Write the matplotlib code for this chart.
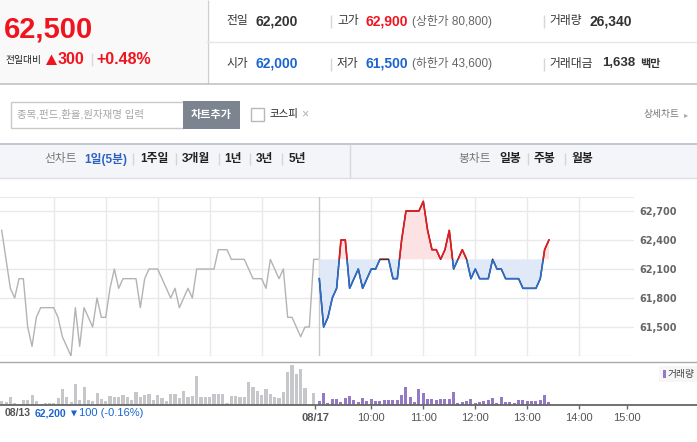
import numpy as np
import matplotlib.pyplot as plt
from matplotlib.patches import Rectangle, Polygon

W, H = 697, 442

prev_close = 62200

# 08/13, 5-minute prices (from 09:00)
prev_prices = [62500, 62200, 61900, 61800, 62000, 62000, 61500, 61300, 61600, 61700,
               61700, 61700, 61700, 61600, 61400, 61300, 61200, 61700, 61300, 61700,
               61600, 61500, 61800, 61600, 61600, 61900, 62100, 61900, 62000, 62000,
               62000, 62000, 61700, 62000, 62100, 62100, 62100, 62000, 61900, 61800,
               61900, 61700, 61800, 61900, 61800, 62100, 62100, 62100, 62100, 62100,
               62300, 62300, 62300, 62200, 62200, 62200, 62200, 62100, 62000, 62000,
               62000, 61900, 62200, 62100, 62000, 62100, 61600, 61600, 61500, 61400,
               61500, 61500, 62200, 62200]
prev_volume = [364, 280, 700, 140, 84, 420, 420, 840, 336, 112,
               168, 168, 140, 560, 1316, 700, 280, 1764, 420, 1484,
               392, 336, 1036, 504, 336, 784, 700, 644, 812, 644,
               392, 1064, 644, 812, 896, 448, 812, 616, 336, 896,
               896, 588, 1176, 644, 784, 2436, 644, 644, 644, 896,
               952, 896, 196, 784, 784, 644, 672, 1932, 1512, 1176,
               812, 1372, 896, 700, 560, 1064, 2800, 3360, 2576, 3024,
               1400, 0, 1008]

# 08/17, 5-minute prices (from 09:00)
today_prices = [62000, 61500, 61600, 61800, 61900, 62400, 62400, 61900, 62000, 62100,
                61900, 62000, 62100, 62100, 62200, 62200, 62200, 62000, 62000, 62400,
                62700, 62700, 62700, 62700, 62800, 62500, 62300, 62300, 62200, 62300,
                62500, 62100, 62200, 62300, 62200, 62000, 62100, 62000, 62000, 62000,
                62200, 62100, 62100, 62000, 62000, 62000, 62000, 61900, 61900, 61900,
                61900, 62000, 62300, 62400]
today_volume = [336, 1036, 140, 476, 476, 280, 560, 728, 420, 280,
                616, 336, 504, 336, 364, 392, 392, 392, 420, 868,
                1512, 672, 280, 1344, 1008, 504, 532, 448, 504, 532,
                532, 1120, 140, 280, 308, 476, 168, 280, 336, 392,
                588, 168, 672, 280, 224, 196, 448, 448, 364, 308,
                336, 420, 840, 224]

price_grid = [61200, 61500, 61800, 62100, 62400, 62700]
price_labels = ['', '61,500', '61,800', '62,100', '62,400', '62,700']
hour_slots = [12, 24, 36, 48, 60]
time_ticks = [-0.9, 12, 24, 36, 48, 60, 71.1]
time_labels = ['08/17', '10:00', '11:00', '12:00', '13:00', '14:00', '15:00']

KR = ['Liberation Sans', 'Noto Sans CJK KR']
RED = '#f0141e'
BLUE = '#1a64d1'

PX0 = 319.3      # pixel x of 08/17 09:00
STEP = 4.333     # pixels per 5 minutes
PREV_SHIFT = -73.3


def rect(x0, y0, x1, y1):
    return [x0 / W, 1 - y1 / H, (x1 - x0) / W, (y1 - y0) / H]


fig = plt.figure(figsize=(W / 100, H / 100), dpi=100)

# ---------- page frame (pixel coords) ----------
bg = fig.add_axes([0, 0, 1, 1], zorder=0)
bg.set_xlim(0, W)
bg.set_ylim(H, 0)
bg.axis('off')


def txt(x, y, s, size, color='#333333', weight='normal', ha='left', fam=KR):
    bg.text(x, y, s, fontsize=size, color=color, fontweight=weight, ha=ha,
            va='center', family=fam)


def vline(x, y0, y1, color='#d6d6d6', lw=1):
    bg.plot([x, x], [y0, y1], color=color, lw=lw, solid_capstyle='butt')


# header
bg.add_patch(Rectangle((0, 0), 207, 84, fc='#f9f9f9', ec='none'))
vline(207.5, 0, 84, '#cfcfcf')
bg.plot([207, W], [41.5, 41.5], color='#e6e6e6', lw=1)
bg.plot([0, W], [84, 84], color='#c3c3c3', lw=1.2)

txt(4, 30, '62,500', 21, RED, 'bold')
txt(6, 59.5, '전일대비', 7, '#222222')
bg.add_patch(Polygon([(46, 65), (57, 65), (51.5, 54.5)], closed=True, fc=RED, ec='none'))
txt(58, 59.5, '300', 11.5, RED, 'bold')
vline(91.5, 53, 66, '#d8d8d8')
txt(96, 59.5, '+0.48%', 11.5, RED, 'bold')

for row_y, items in [
    (21, [(226, '전일', '#333333', 'normal', 8.5), (256, '62,200', '#333333', 'bold', 10),
          (337, '고가', '#333333', 'normal', 8.5), (366, '62,900', RED, 'bold', 10),
          (412, '(상한가 80,800)', '#666666', 'normal', 8.5),
          (549, '거래량', '#333333', 'normal', 8.5), (590, '26,340', '#333333', 'bold', 10)]),
    (63.5, [(226, '시가', '#333333', 'normal', 8.5), (256, '62,000', BLUE, 'bold', 10),
            (337, '저가', '#333333', 'normal', 8.5), (366, '61,500', BLUE, 'bold', 10),
            (412, '(하한가 43,600)', '#666666', 'normal', 8.5),
            (549, '거래대금', '#333333', 'normal', 8.5), (602, '1,638', '#333333', 'bold', 9.5),
            (640, '백만', '#333333', 'bold', 8)]),
]:
    for x, s, c, w, fs in items:
        txt(x, row_y, s, fs, c, w)
    vline(330.5, row_y - 6, row_y + 7)
    vline(543.5, row_y - 6, row_y + 7)

# search row
bg.add_patch(Rectangle((10.5, 101.5), 173, 26, fc='white', ec='#c9c9c9', lw=1))
txt(17, 114.5, '종목,펀드,환율,원자재명 입력', 7.5, '#a5a5a5')
bg.add_patch(Rectangle((183, 101), 57, 27.5, fc='#7c8490', ec='none'))
txt(211.5, 114.5, '차트추가', 8, 'white', 'bold', ha='center')
bg.add_patch(Rectangle((250.5, 107.5), 13, 13, fc='white', ec='#b8b8b8', lw=1))
txt(270, 114.5, '코스피', 7.5, '#222222')
txt(301, 114.5, '×', 9, '#b0b0b0')
txt(644, 114.5, '상세차트', 7, '#777777')
txt(684, 114.5, '▸', 6, '#aaaaaa', fam=['DejaVu Sans'])

# tab bar
bg.add_patch(Rectangle((0, 144), W, 34, fc='#f4f5f8', ec='none'))
bg.plot([0, W], [144, 144], color='#b9bdc7', lw=1.2)
bg.plot([0, W], [178, 178], color='#dcdee3', lw=1)
vline(349.5, 144, 178, '#d6d8dd')
tab_y = 159
txt(44, tab_y, '선차트', 8.5, '#777777')
txt(84, tab_y, '1일(5분)', 8.5, '#2d62c4', 'bold')
for x, s in [(140, '1주일'), (182, '3개월'), (224, '1년'), (256, '3년'), (289, '5년')]:
    txt(x, tab_y, s, 8.5, '#222222', 'bold')
for x in [132.5, 175.5, 218.5, 249.5, 281.5]:
    vline(x, tab_y - 6, tab_y + 6, '#d3d5da')
txt(458, tab_y, '봉차트', 8.5, '#777777')
for x, s in [(499, '일봉'), (534, '주봉'), (571, '월봉')]:
    txt(x, tab_y, s, 8.5, '#222222', 'bold')
for x in [527.5, 564.5]:
    vline(x, tab_y - 6, tab_y + 6, '#d3d5da')

# ---------- price chart ----------
ax = fig.add_axes(rect(0, 197, 634, 356), zorder=1)
ax.patch.set_alpha(0)
ax.set_xlim((0 - PX0) / STEP, (634 - PX0) / STEP)
ax.set_ylim(61200, 62845)
for sp in ax.spines.values():
    sp.set_visible(False)
ax.axhline(62845, color='#e8e8e8', lw=1.5, zorder=0)

grid_x = [h + PREV_SHIFT for h in hour_slots] + hour_slots
ax.set_xticks(grid_x)
ax.set_xticklabels([])
ax.tick_params(axis='x', length=0)
ax.grid(True, axis='both', color='#e9e9e9', lw=1)
ax.set_axisbelow(True)
ax.yaxis.tick_right()
ax.set_yticks(price_grid)
ax.set_yticklabels(price_labels)
ax.tick_params(axis='y', length=0, pad=4, labelsize=7, labelcolor='#666666')
for lab in ax.get_yticklabels():
    lab.set_fontweight('bold')
    lab.set_family('DejaVu Sans')
ax.axvline(0, color='#c9c9c9', lw=1, zorder=1)

xp = np.arange(len(prev_prices)) + PREV_SHIFT
ax.plot(xp, prev_prices, color='#b3b3b3', lw=1, zorder=2)

xt = np.arange(len(today_prices))
yt = np.array(today_prices)
ax.fill_between(xt, yt, prev_close, where=yt >= prev_close, interpolate=True,
                color='#fde2e3', lw=0, zorder=1)
ax.fill_between(xt, yt, prev_close, where=yt <= prev_close, interpolate=True,
                color='#dfe9f8', lw=0, zorder=1)
ax.plot(xt, yt, color='#333333', lw=1.1, zorder=3)
up, = ax.plot(xt, yt, color='#f2161c', lw=1.1, zorder=4)
dn, = ax.plot(xt, yt, color='#2a6dd3', lw=1.1, zorder=4)
up.set_clip_path(Rectangle((-200, prev_close + 6), 400, 5000, transform=ax.transData))
dn.set_clip_path(Rectangle((-200, prev_close - 5006), 400, 5000, transform=ax.transData))

# ---------- volume chart ----------
vx = fig.add_axes(rect(0, 362, W, 405), zorder=1)
vx.patch.set_alpha(0)
vx.set_xlim((0 - PX0) / STEP, (W - PX0) / STEP)
vx.set_ylim(0, 3612)
for k in ['left', 'right']:
    vx.spines[k].set_visible(False)
vx.spines['top'].set_color('#a9a9a9')
vx.spines['top'].set_linewidth(1)
vx.spines['bottom'].set_color('#666666')
vx.spines['bottom'].set_linewidth(1.3)
vx.set_yticks([])
vx.bar(np.arange(len(prev_volume)) + PREV_SHIFT, prev_volume, width=0.7,
       color='#c6c7ca', lw=0)
vx.bar(np.arange(len(today_volume)), today_volume, width=0.7, color='#9479c4', lw=0)
vx.set_xticks(time_ticks)
vx.set_xticklabels(time_labels, family=KR)
vx.tick_params(axis='x', direction='out', length=3, width=1, color='#666666',
               pad=3, labelsize=8, labelcolor='#555555')
vx.get_xticklabels()[0].set_fontweight('bold')

# volume legend
bg.add_patch(Rectangle((659, 366), 38, 16, fc='#f6f6f6', ec='none', zorder=2))
bg.add_patch(Rectangle((663, 370), 3, 8, fc='#9479c4', ec='none', zorder=3))
bg.text(668, 374, '거래량', fontsize=7, color='#444444', va='center', family=KR, zorder=3)

# previous day summary under the chart
txt(5, 413.5, '08/13', 7.5, '#555555', 'bold')
txt(34.5, 413.5, '62,200', 7.5, BLUE, 'bold')
bg.add_patch(Polygon([(71, 410.5), (77, 410.5), (74, 416.5)], closed=True, fc=BLUE, ec='none'))
txt(79, 413.5, '100 (-0.16%)', 8, BLUE)

fig.savefig('out.png', dpi=100)
